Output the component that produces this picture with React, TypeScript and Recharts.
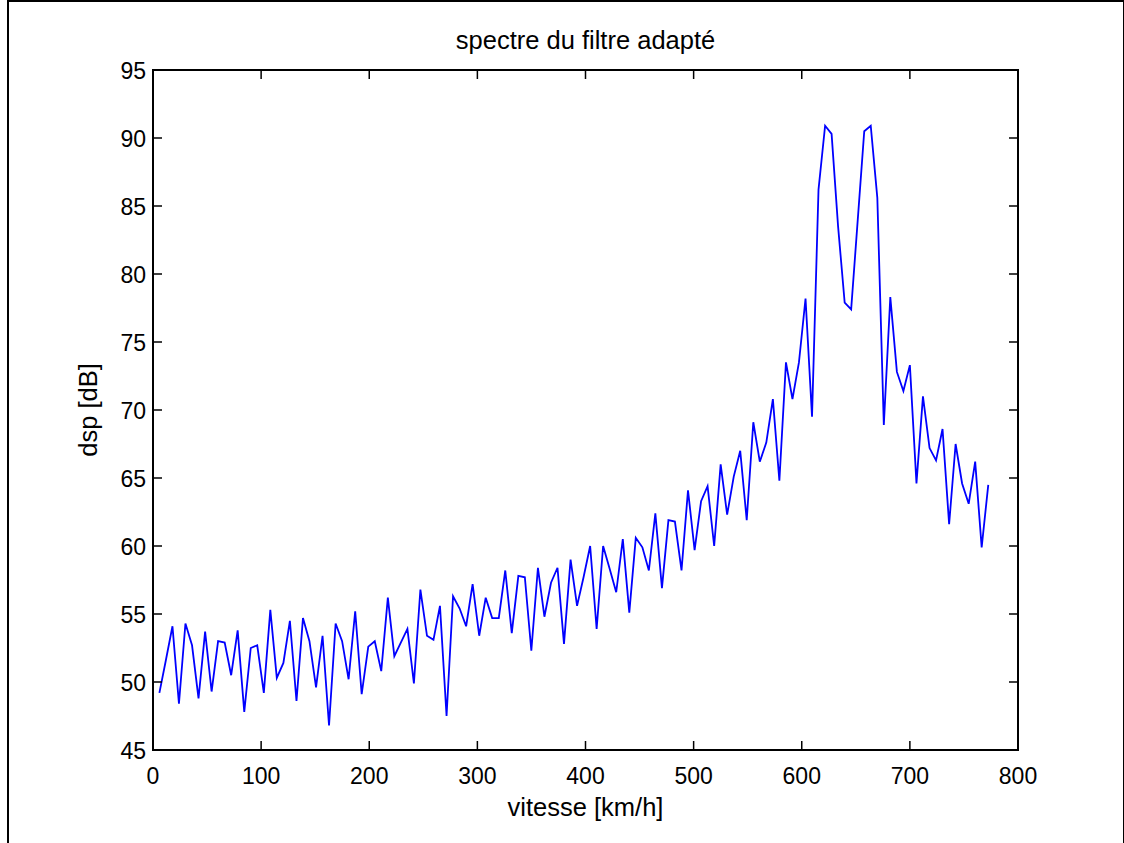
import React from 'react';
import { LineChart, Line, XAxis, YAxis } from 'recharts';

// vitesse [km/h] of each spectrum bin
const vitesse = [
  5.9, 11.9, 18.0, 24.0, 30.0, 36.1, 42.1, 48.2, 54.2, 60.2,
  66.3, 72.3, 78.3, 84.4, 90.4, 96.4, 102.5, 108.5, 114.5, 120.6,
  126.6, 132.7, 138.7, 144.7, 150.8, 156.8, 162.8, 168.9, 174.9, 180.9,
  187.0, 193.0, 199.1, 205.1, 211.1, 217.2, 223.2, 229.2, 235.3, 241.3,
  247.3, 253.4, 259.4, 265.4, 271.5, 277.5, 283.6, 289.6, 295.6, 301.7,
  307.7, 313.7, 319.8, 325.8, 331.8, 337.9, 343.9, 349.9, 356.0, 362.0,
  368.1, 374.1, 380.1, 386.2, 392.2, 398.2, 404.3, 410.3, 416.3, 422.4,
  428.4, 434.5, 440.5, 446.5, 452.6, 458.6, 464.6, 470.7, 476.7, 482.7,
  488.8, 494.8, 500.9, 506.9, 512.9, 519.0, 525.0, 531.0, 537.1, 543.1,
  549.1, 555.2, 561.2, 567.2, 573.3, 579.3, 585.4, 591.4, 597.4, 603.5,
  609.5, 615.5, 621.6, 627.6, 633.6, 639.7, 645.7, 651.8, 657.8, 663.8,
  669.9, 675.9, 681.9, 688.0, 694.0, 700.0, 706.1, 712.1, 718.2, 724.2,
  730.2, 736.3, 742.3, 748.3, 754.4, 760.4, 766.4, 772.5,
];

// dsp [dB]
const dsp = [
  49.2, 51.6, 54.1, 48.4, 54.3, 52.7, 48.8, 53.7, 49.3, 53.0,
  52.9, 50.5, 53.8, 47.8, 52.5, 52.7, 49.2, 55.3, 50.3, 51.4,
  54.5, 48.6, 54.7, 53.0, 49.6, 53.4, 46.8, 54.3, 53.0, 50.2,
  55.2, 49.1, 52.6, 53.0, 50.8, 56.2, 51.9, 52.9, 53.9, 49.9,
  56.8, 53.4, 53.1, 55.6, 47.5, 56.3, 55.4, 54.1, 57.2, 53.4,
  56.2, 54.7, 54.7, 58.2, 53.6, 57.8, 57.7, 52.3, 58.4, 54.8,
  57.3, 58.4, 52.8, 59.0, 55.6, 57.7, 60.0, 53.9, 60.0, 58.3,
  56.6, 60.5, 55.1, 60.6, 59.9, 58.2, 62.4, 56.9, 61.9, 61.8,
  58.2, 64.1, 59.7, 63.3, 64.4, 60.0, 66.0, 62.3, 65.1, 67.0,
  61.9, 69.1, 66.2, 67.6, 70.8, 64.8, 73.5, 70.8, 73.5, 78.2,
  69.5, 86.2, 90.9, 90.3, 83.5, 77.9, 77.4, 84.0, 90.5, 90.9,
  85.6, 68.9, 78.3, 72.8, 71.4, 73.3, 64.6, 71.0, 67.2, 66.3,
  68.6, 61.6, 67.5, 64.6, 63.1, 66.2, 59.9, 64.5,
];

const xTicks = [0, 100, 200, 300, 400, 500, 600, 700, 800];
const yTicks = [45, 50, 55, 60, 65, 70, 75, 80, 85, 90, 95];

const data = vitesse.map((v, i) => ({ v, dsp: dsp[i] }));

const FONT = '"Liberation Sans", Arial, Helvetica, sans-serif';
const TICK = 9;
// plot box edges (px)
const LEFT = 153;
const RIGHT = 1018;
const TOP = 70;
const BOTTOM = 750;

// MATLAB style: ticks point inward, on all four sides of the box
function BottomTick({ x, payload }: any) {
  return (
    <g>
      <line x1={x} y1={BOTTOM} x2={x} y2={BOTTOM - TICK} stroke="#000" strokeWidth={1.5} />
      <line x1={x} y1={TOP} x2={x} y2={TOP + TICK} stroke="#000" strokeWidth={1.5} />
      <text x={x} y={784} textAnchor="middle" fontSize={23} fontFamily={FONT} fill="#000">
        {payload.value}
      </text>
    </g>
  );
}

function LeftTick({ y, payload }: any) {
  return (
    <g>
      <line x1={LEFT} y1={y} x2={LEFT + TICK} y2={y} stroke="#000" strokeWidth={1.5} />
      <line x1={RIGHT} y1={y} x2={RIGHT - TICK} y2={y} stroke="#000" strokeWidth={1.5} />
      <text x={146} y={y + 8.5} textAnchor="end" fontSize={23} fontFamily={FONT} fill="#000">
        {payload.value}
      </text>
    </g>
  );
}

function YLabel({ viewBox }: any) {
  const cx = 88;
  const cy = viewBox.y + viewBox.height / 2;
  return (
    <text
      x={cx}
      y={cy}
      transform={`rotate(-90 ${cx} ${cy})`}
      textAnchor="middle"
      dominantBaseline="central"
      fontSize={25.5}
      fontFamily={FONT}
      fill="#000"
    >
      dsp [dB]
    </text>
  );
}

function XLabel({ viewBox }: any) {
  const cx = viewBox.x + viewBox.width / 2;
  return (
    <text x={cx} y={816} textAnchor="middle" fontSize={25.5} fontFamily={FONT} fill="#000">
      vitesse [km/h]
    </text>
  );
}

export default function App() {
  return (
    <div style={{ position: 'absolute', left: 0, top: 0, width: 1124, height: 843, background: '#fff', overflow: 'hidden' }}>
      {/* figure frame */}
      <div
        style={{
          position: 'absolute',
          left: 7,
          top: 0,
          width: 1114,
          height: 860,
          borderTop: '2px solid #000',
          borderLeft: '2px solid #000',
          borderRight: '2px solid #000',
        }}
      />
      <div
        style={{
          position: 'absolute',
          left: LEFT,
          width: RIGHT - LEFT,
          top: 25,
          textAlign: 'center',
          fontFamily: FONT,
          fontSize: 25.5,
          color: '#000',
          lineHeight: '30px',
        }}
      >
        spectre du filtre adapté
      </div>
      <div style={{ position: 'absolute', left: 0, top: 0 }}>
        <LineChart width={1124} height={843} data={data} margin={{ top: TOP, right: 1124 - RIGHT, bottom: 0, left: LEFT - 60 }}>
          <XAxis
            dataKey="v"
            type="number"
            domain={[0, 800]}
            ticks={xTicks}
            allowDataOverflow
            tickLine={false}
            axisLine={false}
            height={843 - BOTTOM}
            tick={<BottomTick />}
            label={<XLabel />}
          />
          <YAxis
            type="number"
            domain={[45, 95]}
            ticks={yTicks}
            allowDataOverflow
            tickLine={false}
            axisLine={false}
            width={60}
            tick={<LeftTick />}
            label={<YLabel />}
          />
          <Line
            type="linear"
            dataKey="dsp"
            stroke="#0000ff"
            strokeWidth={1.8}
            dot={false}
            isAnimationActive={false}
          />
        </LineChart>
      </div>
      {/* axes box */}
      <div
        style={{
          position: 'absolute',
          left: LEFT - 1,
          top: TOP - 1,
          width: RIGHT - LEFT + 2,
          height: BOTTOM - TOP + 2,
          border: '2px solid #000',
          boxSizing: 'border-box',
          pointerEvents: 'none',
        }}
      />
    </div>
  );
}
